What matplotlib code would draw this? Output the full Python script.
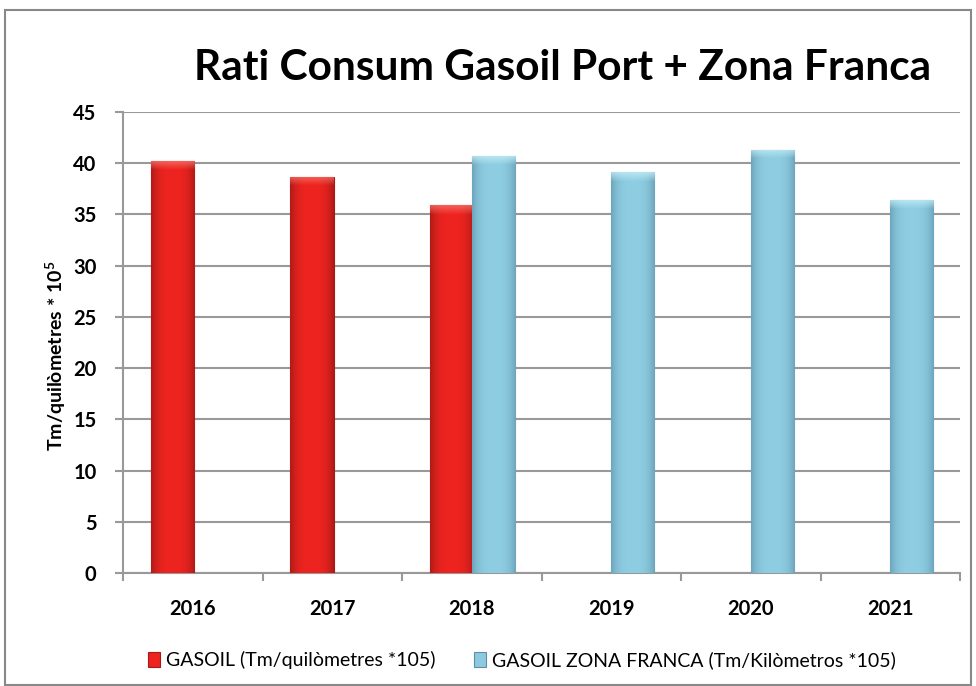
import matplotlib
matplotlib.use("Agg")
import matplotlib.pyplot as plt
import numpy as np
from matplotlib.patches import Rectangle
from matplotlib.colors import to_rgb

years = ["2016", "2017", "2018", "2019", "2020", "2021"]
gasoil_port = [40.2, 38.7, 35.9, None, None, None]
gasoil_zf = [None, None, 40.7, 39.1, 41.3, 36.4]
label_port = "GASOIL (Tm/quilòmetres *105)"
label_zf = "GASOIL ZONA FRANCA (Tm/Kilòmetros *105)"
title = "Rati Consum Gasoil Port + Zona Franca"
ylabel = "Tm/quilòmetres * 10$^5$"
yticks = [0, 5, 10, 15, 20, 25, 30, 35, 40, 45]

plt.rcParams['font.family'] = ['Lato', 'DejaVu Sans']
plt.rcParams['mathtext.fontset'] = 'custom'
plt.rcParams['mathtext.rm'] = 'Lato:bold'
plt.rcParams['mathtext.bf'] = 'Lato:bold'

fig = plt.figure(figsize=(9.76, 6.86), dpi=100)
fig.patches.append(Rectangle((5/976, 1/686), 966/976, 675/686, transform=fig.transFigure,
                             fill=False, edgecolor='#888888', linewidth=1.5, zorder=0))
ax = fig.add_axes([123/976, 1-573/686, 837/976, 461/686])

x = np.arange(len(years))
w = 0.31
red = '#EC231E'
blue = '#8DCAE0'

xp = [xi for xi, v in zip(x, gasoil_port) if v is not None]
vp = [v for v in gasoil_port if v is not None]
xz = [xi for xi, v in zip(x, gasoil_zf) if v is not None]
vz = [v for v in gasoil_zf if v is not None]

bars_p = ax.bar(np.array(xp) - 0.145, vp, width=w, color=red, edgecolor='#A81814', linewidth=0.8,
                label=label_port, zorder=3)
bars_z = ax.bar(np.array(xz) + 0.155, vz, width=w, color=blue, edgecolor='#5E8EA2', linewidth=0.8,
                label=label_zf, zorder=3)


def shade(bars, base, edge, top):
    base = np.array(to_rgb(base))
    edge = np.array(to_rgb(edge))
    top = np.array(to_rgb(top))
    for p in bars:
        x0, y0 = p.get_x(), p.get_y()
        bw, bh = p.get_width(), p.get_height()
        nx, ny = 60, 400
        u = np.linspace(-1, 1, nx)
        prof = np.clip(np.abs(u) ** 3, 0, 1)[None, :, None]
        img = base[None, None, :] * (1 - prof) + edge[None, None, :] * prof
        img = np.repeat(img, ny, axis=0)
        cap_px = int(ny * 1.0 / bh)
        if cap_px > 0:
            t = np.linspace(1, 0, cap_px)[:, None, None]
            img[:cap_px] = img[:cap_px] * (1 - 0.7 * t) + top[None, None, :] * 0.7 * t
        im = ax.imshow(img, extent=(x0, x0 + bw, y0, y0 + bh), aspect='auto',
                       origin='upper', zorder=3.5, interpolation='bilinear')
        im.set_clip_path(p)


shade(bars_p, '#EE2420', '#B01B17', '#F87A70')
shade(bars_z, '#8ECDE2', '#6EA6BC', '#C8F0FA')

ax.set_xlim(-0.5, len(years) - 0.5)
ax.set_ylim(0, 45)
ax.set_yticks(yticks)
ax.set_yticklabels([str(t) for t in yticks], fontsize=14.5, fontweight='bold')
ax.set_xticks(x)
ax.set_xticklabels(years, fontsize=14.5, fontweight='bold')
ax.set_xticks(np.arange(len(years) + 1) - 0.5, minor=True)
ax.tick_params(axis='x', which='major', length=0, pad=19)
ax.tick_params(axis='x', which='minor', length=6, width=1.5, color='#999999', direction='out')
ax.tick_params(axis='y', length=6, width=1.5, color='#999999', pad=13)
ax.grid(axis='y', color='#999999', linewidth=1.5, zorder=0)
for s in ['top', 'right']:
    ax.spines[s].set_visible(False)
for s in ['left', 'bottom']:
    ax.spines[s].set_color('#999999')
    ax.spines[s].set_linewidth(1.5)

ax.set_ylabel(ylabel, fontsize=14, fontweight='bold')
ax.yaxis.set_label_coords(-0.066, 0.47)

fig.text(563/976, 1-68/686, title, ha='center', va='center', fontsize=30.5, fontweight='bold')

fig.legend(loc='center', bbox_to_anchor=(522/976, 1-660/686), ncol=2, frameon=False,
           prop={'size': 14},
           handlelength=0.6, handleheight=0.8, handletextpad=0.3,
           columnspacing=2.0)

fig.savefig("out.png", dpi=100)
